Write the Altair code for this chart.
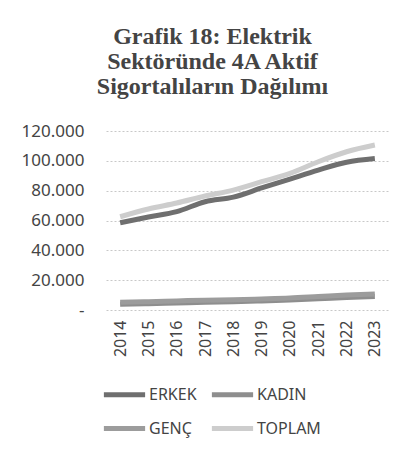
import altair as alt
import pandas as pd

years = ["2014", "2015", "2016", "2017", "2018", "2019", "2020", "2021", "2022", "2023"]
erkek = [58500, 62300, 65900, 72600, 75700, 81800, 87800, 93800, 99000, 101500]
kadin = [3800, 4200, 4700, 5200, 5600, 6100, 6700, 7500, 8400, 9100]
genc = [5200, 5600, 6100, 6600, 6900, 7400, 8000, 9000, 10000, 10800]
toplam = [62500, 67700, 71700, 76400, 80400, 86000, 91600, 99400, 106100, 110600]

series = ["ERKEK", "KADIN", "GENÇ", "TOPLAM"]
colors = ["#6f6f6f", "#8e8e8e", "#9c9c9c", "#cdcdcd"]

rows = []
for name, vals in zip(series, [erkek, kadin, genc, toplam]):
    for y, v in zip(years, vals):
        rows.append({"Yıl": y, "Seri": name, "Değer": v})
df = pd.DataFrame(rows)

chart = alt.Chart(df).mark_line(strokeWidth=5, interpolate="monotone").encode(
    x=alt.X("Yıl:O", scale=alt.Scale(type="point", padding=0.5),
            axis=alt.Axis(title=None, labelAngle=-90, labelFontSize=16, labelColor="#444",
                          labelFont="Noto Sans", domain=False, ticks=False, labelPadding=10,
                          labelBaseline="middle")),
    y=alt.Y("Değer:Q", scale=alt.Scale(domain=[0, 120000], nice=False),
            axis=alt.Axis(title=None, values=[0, 20000, 40000, 60000, 80000, 100000, 120000],
                          labelExpr="datum.value == 0 ? '-' : replace(format(datum.value, ','), ',', '.')",
                          labelFontSize=17, labelColor="#444", labelFont="Noto Sans",
                          domain=False, ticks=False, labelPadding=22,
                          grid=True, gridColor="#c8c8c8", gridDash=[2, 2], gridWidth=1)),
    color=alt.Color("Seri:N", scale=alt.Scale(domain=series, range=colors),
                    legend=alt.Legend(title=None, orient="none", legendX=-5, legendY=240,
                                      values=series, direction="horizontal",
                                      columns=2, symbolType="stroke", symbolSize=1700,
                                      symbolStrokeWidth=5, labelFontSize=16, labelColor="#444",
                                      labelFont="Noto Sans", columnPadding=4, rowPadding=0,
                                      labelOffset=1)),
    order=alt.Order("order:Q"),
).transform_calculate(
    order="indexof(['KADIN','GENÇ','ERKEK','TOPLAM'], datum.Seri)"
).properties(
    width=283, height=179,
    title=alt.TitleParams(
        text=["Grafik 18: Elektrik", "Sektöründe 4A Aktif", "Sigortalıların Dağılımı"],
        font="Liberation Serif", fontSize=24, fontWeight="bold", color="#444",
        lineHeight=25, anchor="middle", dx=-35, offset=23),
    autosize=alt.AutoSizeParams(type="none"),
    padding={"left": 98, "top": 123, "right": 4, "bottom": 129},
).configure_view(stroke=None)

chart.save("out.html", embed_options={"renderer": "svg", "actions": False})
